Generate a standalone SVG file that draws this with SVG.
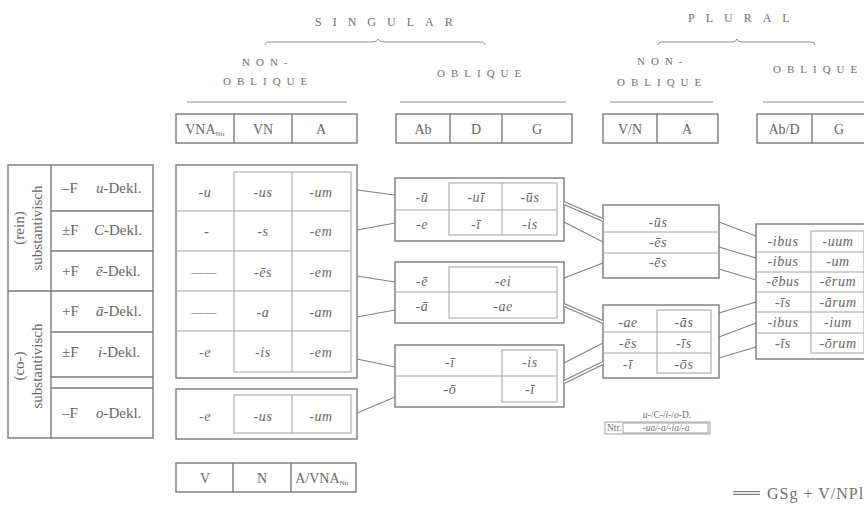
<svg xmlns="http://www.w3.org/2000/svg" width="864" height="508" viewBox="0 0 864 508">
<style>
.bg{fill:#ffffff}
.ob{fill:none;stroke:#7a7a7a;stroke-width:1.4}
.ib{fill:none;stroke:#a2a2a2;stroke-width:1}
.ln{stroke:#8e8e8e;stroke-width:1;fill:none}
.hd{font-family:"Liberation Serif","Times New Roman",serif;font-size:12px;fill:#707070;letter-spacing:11px}
.sh{font-family:"Liberation Serif","Times New Roman",serif;font-size:11px;fill:#707070;letter-spacing:6px}
.c{font-family:"Liberation Serif","Times New Roman",serif;font-size:14px;fill:#666;text-anchor:middle}
.ci{font-family:"Liberation Serif","Times New Roman",serif;font-size:14px;font-style:italic;fill:#666;text-anchor:middle;letter-spacing:0.6px}
.lt{font-family:"Liberation Serif","Times New Roman",serif;font-size:15px;fill:#666}
.lg{font-family:"Liberation Serif","Times New Roman",serif;font-size:16px;fill:#707070;letter-spacing:1px}
.sm{font-family:"Liberation Serif","Times New Roman",serif;font-size:9.5px;fill:#707070}
.cn{stroke:#808080;stroke-width:1.1;fill:none}
.dbo{stroke:#808080;stroke-width:4;fill:none}
.dbi{stroke:#fff;stroke-width:1.6;fill:none}
</style>
<rect class="bg" x="0" y="0" width="864" height="508"/>

<g id="headers">
  <text class="hd" x="315" y="26">SINGULAR</text>
  <path class="ln" d="M265,45 Q265,42 270,42 L372,42 Q377,42 378,39 Q379,42 384,42 L480,42 Q485,42 485,45"/>
  <text class="sh" x="242" y="66">NON-</text>
  <text class="sh" x="223" y="85">OBLIQUE</text>
  <line class="ln" x1="187" y1="102" x2="347" y2="102"/>
  <text class="sh" x="437" y="77">OBLIQUE</text>
  <line class="ln" x1="400" y1="102" x2="566" y2="102"/>
  <text class="hd" x="688" y="22">PLURAL</text>
  <path class="ln" d="M658,45 Q658,42 662,42 L732,42 Q736,42 737,39 Q738,42 742,42 L811,42 Q815,42 815,45"/>
  <text class="sh" x="637" y="65">NON-</text>
  <text class="sh" x="617" y="86">OBLIQUE</text>
  <line class="ln" x1="610" y1="102" x2="713" y2="102"/>
  <text class="sh" x="773" y="73">OBLIQUE</text>
  <line class="ln" x1="763" y1="102" x2="864" y2="102"/>
</g>

<g id="hdr-sg-nonobl">
  <rect class="ob" x="176" y="114" width="181" height="29"/>
  <line class="ob" x1="234" y1="114" x2="234" y2="143"/>
  <line class="ob" x1="292" y1="114" x2="292" y2="143"/>
  <text class="c" x="205" y="134">VNA<tspan font-size="7" dy="2">Ntr</tspan></text>
  <text class="c" x="263" y="134">VN</text>
  <text class="c" x="321" y="134">A</text>
</g>
<g id="hdr-sg-obl">
  <rect class="ob" x="396" y="114" width="176" height="29"/>
  <line class="ob" x1="450" y1="114" x2="450" y2="143"/>
  <line class="ob" x1="502" y1="114" x2="502" y2="143"/>
  <text class="c" x="423" y="134">Ab</text>
  <text class="c" x="476" y="134">D</text>
  <text class="c" x="537" y="134">G</text>
</g>
<g id="hdr-pl-nonobl">
  <rect class="ob" x="603" y="114" width="115" height="29"/>
  <line class="ob" x1="657" y1="114" x2="657" y2="143"/>
  <text class="c" x="630" y="134">V/N</text>
  <text class="c" x="687" y="134">A</text>
</g>
<g id="hdr-pl-obl">
  <rect class="ob" x="757" y="114" width="110" height="29"/>
  <line class="ob" x1="812" y1="114" x2="812" y2="143"/>
  <text class="c" x="784" y="134">Ab/D</text>
  <text class="c" x="839" y="134">G</text>
</g>

<g id="classes">
  <rect class="ob" x="8" y="165" width="145" height="273"/>
  <line class="ob" x1="51" y1="165" x2="51" y2="438"/>
  <line class="ob" x1="8" y1="291" x2="153" y2="291"/>
  <line class="ob" x1="51" y1="211" x2="153" y2="211"/>
  <line class="ob" x1="51" y1="251" x2="153" y2="251"/>
  <line class="ob" x1="51" y1="332" x2="153" y2="332"/>
  <line class="ob" x1="51" y1="377" x2="153" y2="377"/>
  <line class="ob" x1="51" y1="388" x2="153" y2="388"/>
  <text class="lt" transform="translate(24,228) rotate(-90)" text-anchor="middle">(rein)</text>
  <text class="lt" transform="translate(42,228) rotate(-90)" text-anchor="middle">substantivisch</text>
  <text class="lt" transform="translate(24,366) rotate(-90)" text-anchor="middle">(co-)</text>
  <text class="lt" transform="translate(42,366) rotate(-90)" text-anchor="middle">substantivisch</text>
  <text class="lt" x="62" y="193">–F</text><text class="lt" x="96" y="193"><tspan font-style="italic">u</tspan>-Dekl.</text>
  <text class="lt" x="62" y="235">±F</text><text class="lt" x="94" y="235"><tspan font-style="italic">C</tspan>-Dekl.</text>
  <text class="lt" x="62" y="276">+F</text><text class="lt" x="96" y="276"><tspan font-style="italic">ē</tspan>-Dekl.</text>
  <text class="lt" x="62" y="316">+F</text><text class="lt" x="96" y="316"><tspan font-style="italic">ā</tspan>-Dekl.</text>
  <text class="lt" x="62" y="357">±F</text><text class="lt" x="98" y="357"><tspan font-style="italic">i</tspan>-Dekl.</text>
  <text class="lt" x="62" y="418">–F</text><text class="lt" x="96" y="418"><tspan font-style="italic">o</tspan>-Dekl.</text>
</g>

<g id="sg-nonobl">
  <rect class="ob" x="176" y="165" width="181" height="213"/>
  <rect class="ib" x="234" y="172" width="117" height="200"/>
  <line class="ib" x1="292" y1="172" x2="292" y2="372"/>
  <line class="ib" x1="176" y1="211" x2="351" y2="211"/>
  <line class="ib" x1="176" y1="251" x2="351" y2="251"/>
  <line class="ib" x1="176" y1="291" x2="351" y2="291"/>
  <line class="ib" x1="176" y1="331" x2="351" y2="331"/>
  <text class="ci" x="205" y="197">-u</text><text class="ci" x="263" y="197">-us</text><text class="ci" x="321" y="197">-um</text>
  <text class="ci" x="207" y="236">-</text><text class="ci" x="263" y="236">-s</text><text class="ci" x="321" y="236">-em</text>
  <text class="ci" x="204" y="277">——</text><text class="ci" x="263" y="277">-ēs</text><text class="ci" x="321" y="277">-em</text>
  <text class="ci" x="204" y="317">——</text><text class="ci" x="263" y="317">-a</text><text class="ci" x="321" y="317">-am</text>
  <text class="ci" x="205" y="357">-e</text><text class="ci" x="263" y="357">-is</text><text class="ci" x="321" y="357">-em</text>
</g>
<g id="sg-nonobl-o">
  <rect class="ob" x="176" y="389" width="181" height="50"/>
  <rect class="ib" x="234" y="395" width="117" height="38"/>
  <line class="ib" x1="292" y1="395" x2="292" y2="433"/>
  <text class="ci" x="205" y="421">-e</text><text class="ci" x="263" y="421">-us</text><text class="ci" x="321" y="421">-um</text>
</g>
<g id="hdr-bottom">
  <rect class="ob" x="176" y="463" width="180" height="29"/>
  <line class="ob" x1="233" y1="463" x2="233" y2="492"/>
  <line class="ob" x1="291" y1="463" x2="291" y2="492"/>
  <text class="c" x="205" y="483">V</text>
  <text class="c" x="262" y="483">N</text>
  <text class="c" x="322" y="483">A/VNA<tspan font-size="7" dy="2">Ntr</tspan></text>
</g>

<g id="sg-obl-1">
  <rect class="ob" x="395" y="178" width="169" height="63"/>
  <rect class="ib" x="449" y="183" width="108" height="52"/>
  <line class="ib" x1="502" y1="183" x2="502" y2="235"/>
  <line class="ib" x1="395" y1="210" x2="557" y2="210"/>
  <text class="ci" x="422" y="202">-ū</text><text class="ci" x="476" y="202">-uī</text><text class="ci" x="530" y="202">-ūs</text>
  <text class="ci" x="422" y="229">-e</text><text class="ci" x="476" y="229">-ī</text><text class="ci" x="530" y="229">-is</text>
</g>
<g id="sg-obl-2">
  <rect class="ob" x="395" y="262" width="169" height="61"/>
  <rect class="ib" x="449" y="267" width="108" height="51"/>
  <line class="ib" x1="395" y1="292" x2="557" y2="292"/>
  <text class="ci" x="422" y="286">-ē</text><text class="ci" x="503" y="286">-ei</text>
  <text class="ci" x="422" y="311">-ā</text><text class="ci" x="503" y="311">-ae</text>
</g>
<g id="sg-obl-3">
  <rect class="ob" x="395" y="345" width="169" height="62"/>
  <rect class="ib" x="502" y="350" width="55" height="52"/>
  <line class="ib" x1="395" y1="376" x2="557" y2="376"/>
  <text class="ci" x="450" y="367">-ī</text><text class="ci" x="530" y="367">-is</text>
  <text class="ci" x="450" y="394">-ō</text><text class="ci" x="530" y="394">-ī</text>
</g>

<g id="pl-nonobl-1">
  <rect class="ob" x="603" y="205" width="116" height="73"/>
  <line class="ib" x1="603" y1="232" x2="719" y2="232"/>
  <line class="ib" x1="603" y1="253" x2="719" y2="253"/>
  <text class="ci" x="658" y="227">-ūs</text>
  <text class="ci" x="658" y="247">-ēs</text>
  <text class="ci" x="658" y="267">-ēs</text>
</g>
<g id="pl-nonobl-2">
  <rect class="ob" x="603" y="305" width="116" height="73"/>
  <rect class="ib" x="657" y="310" width="54" height="63"/>
  <line class="ib" x1="603" y1="332" x2="711" y2="332"/>
  <line class="ib" x1="603" y1="353" x2="711" y2="353"/>
  <text class="ci" x="628" y="327">-ae</text><text class="ci" x="684" y="327">-ās</text>
  <text class="ci" x="628" y="348">-ēs</text><text class="ci" x="684" y="348">-īs</text>
  <text class="ci" x="628" y="369">-ī</text><text class="ci" x="684" y="369">-ōs</text>
</g>
<g id="pl-obl">
  <rect class="ob" x="756" y="224" width="114" height="135"/>
  <rect class="ib" x="811" y="231" width="53" height="122"/>
  <line class="ib" x1="756" y1="252" x2="864" y2="252"/>
  <line class="ib" x1="756" y1="272" x2="864" y2="272"/>
  <line class="ib" x1="756" y1="292" x2="864" y2="292"/>
  <line class="ib" x1="756" y1="312" x2="864" y2="312"/>
  <line class="ib" x1="756" y1="333" x2="864" y2="333"/>
  <text class="ci" x="783" y="246">-ibus</text><text class="ci" x="838" y="246">-uum</text>
  <text class="ci" x="783" y="266">-ibus</text><text class="ci" x="838" y="266">-um</text>
  <text class="ci" x="783" y="286">-ēbus</text><text class="ci" x="838" y="286">-ērum</text>
  <text class="ci" x="783" y="307">-īs</text><text class="ci" x="838" y="307">-ārum</text>
  <text class="ci" x="783" y="327">-ibus</text><text class="ci" x="838" y="327">-ium</text>
  <text class="ci" x="783" y="348">-īs</text><text class="ci" x="838" y="348">-ōrum</text>
</g>

<g id="ntr-note">
  <text class="sm" x="667" y="418" text-anchor="middle"><tspan font-style="italic">u</tspan>-/C-/<tspan font-style="italic">i</tspan>-/<tspan font-style="italic">o</tspan>-D.</text>
  <rect class="ib" x="605" y="422" width="105" height="12"/>
  <rect class="ib" x="623" y="423" width="85" height="10"/>
  <text class="sm" x="607" y="431">Ntr.</text>
  <text class="sm" x="666" y="431" text-anchor="middle" font-style="italic">-ua/-a/-ia/-a</text>
</g>

<g id="legend">
  <line class="dbo" x1="733" y1="493" x2="760" y2="493"/>
  <line class="dbi" x1="733" y1="493" x2="760" y2="493"/>
  <text class="lg" x="767" y="499">GSg + V/NPl</text>
</g>

<g id="connectors">
  <line class="cn" x1="357" y1="190" x2="395" y2="195"/>
  <line class="cn" x1="357" y1="230" x2="395" y2="223"/>
  <line class="cn" x1="357" y1="276" x2="395" y2="282"/>
  <line class="cn" x1="357" y1="317" x2="395" y2="310"/>
  <line class="cn" x1="357" y1="359" x2="395" y2="367"/>
  <line class="cn" x1="357" y1="413" x2="395" y2="397"/>
  <line class="dbo" x1="564" y1="203" x2="603" y2="220"/>
  <line class="dbi" x1="564" y1="203" x2="603" y2="220"/>
  <line class="cn" x1="564" y1="222" x2="603" y2="242"/>
  <line class="cn" x1="564" y1="278" x2="603" y2="263"/>
  <line class="dbo" x1="564" y1="305" x2="603" y2="322"/>
  <line class="dbi" x1="564" y1="305" x2="603" y2="322"/>
  <line class="cn" x1="564" y1="363" x2="603" y2="343"/>
  <line class="dbo" x1="564" y1="382" x2="603" y2="363"/>
  <line class="dbi" x1="564" y1="382" x2="603" y2="363"/>
  <line class="cn" x1="719" y1="222" x2="756" y2="236"/>
  <line class="cn" x1="719" y1="247" x2="756" y2="258"/>
  <line class="cn" x1="719" y1="269" x2="756" y2="280"/>
  <line class="cn" x1="719" y1="313" x2="756" y2="302"/>
  <line class="cn" x1="719" y1="337" x2="756" y2="323"/>
  <line class="cn" x1="719" y1="358" x2="756" y2="347"/>
</g>
</svg>
